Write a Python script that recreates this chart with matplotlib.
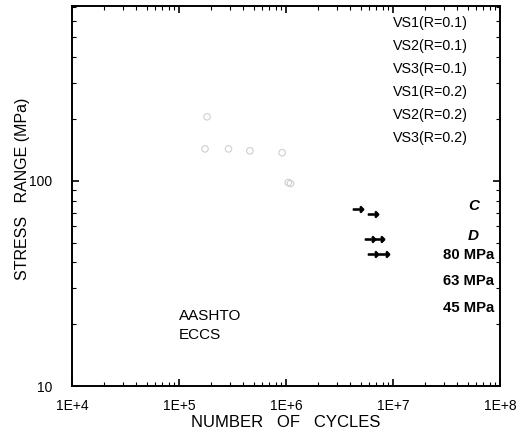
import matplotlib
matplotlib.use('Agg')
import matplotlib.pyplot as plt
from matplotlib.ticker import LogLocator, NullFormatter, FixedLocator

plt.rcParams['font.family'] = ['Liberation Sans', 'DejaVu Sans']

# faded test points (cycles, stress range MPa)
failed_n = [1.83e5, 1.75e5, 2.9e5, 4.6e5, 9.2e5, 1.05e6, 1.1e6]
failed_s = [205, 143, 143, 140, 137, 98, 97]

# run-outs (arrows)
runout_n = [4.7e6, 6.5e6, 6.1e6, 7.4e6, 6.5e6, 8.2e6]
runout_s = [73, 69, 52, 52, 44, 44]

series = ['VS1(R=0.1)', 'VS2(R=0.1)', 'VS3(R=0.1)',
          'VS1(R=0.2)', 'VS2(R=0.2)', 'VS3(R=0.2)']
cat_labels = ['C', 'D']
eccs_labels = ['80 MPa', '63 MPa', '45 MPa']
xticks = [1e4, 1e5, 1e6, 1e7, 1e8]
xtick_labels = ['1E+4', '1E+5', '1E+6', '1E+7', '1E+8']

fig = plt.figure(figsize=(5.27, 4.33), dpi=100)
ax = fig.add_axes([0.1366, 0.1085, 0.8122, 0.8775])

ax.set_xscale('log')
ax.set_yscale('log')
ax.set_xlim(1e4, 1e8)
ax.set_ylim(10, 710)

ax.scatter(failed_n, failed_s, s=22, facecolors='none', edgecolors='#cfcfcf',
           linewidths=0.8, marker='o')
ax.scatter(runout_n, runout_s, s=55, color='black', marker=r'$\rightarrow$')

ax.set_xticks(xticks)
ax.set_xticklabels(xtick_labels)
ax.xaxis.set_minor_locator(LogLocator(base=10, subs=range(2, 10)))
ax.xaxis.set_minor_formatter(NullFormatter())
ax.yaxis.set_major_locator(FixedLocator([10, 100]))
ax.set_yticklabels(['10', '100'])
ax.yaxis.set_minor_locator(LogLocator(base=10, subs=range(2, 10)))
ax.yaxis.set_minor_formatter(NullFormatter())

ax.tick_params(which='both', direction='in', top=True, right=True, labelsize=10)
ax.tick_params(axis='x', pad=9)
ax.tick_params(axis='y', pad=14)
ax.tick_params(which='major', length=5, width=1.2)
ax.tick_params(which='minor', length=3, width=0.8)
for sp in ax.spines.values():
    sp.set_linewidth(1.4)

ax.set_xlabel('NUMBER   OF   CYCLES', fontsize=12)
ax.set_ylabel('STRESS   RANGE (MPa)', fontsize=11.5)
ax.xaxis.set_label_coords(0.5, -0.075)
ax.yaxis.set_label_coords(-0.098, 0.52)

# legend texts (axes coordinates)
for i, name in enumerate(series):
    ax.text(0.749, 0.955 - i * 0.0605, name, transform=ax.transAxes,
            fontsize=10.3, va='center')
ax.text(0.925, 0.475, cat_labels[0], transform=ax.transAxes, fontsize=11,
        fontweight='bold', style='italic', va='center')
ax.text(0.925, 0.396, cat_labels[1], transform=ax.transAxes, fontsize=11,
        fontweight='bold', style='italic', va='center')
for i, lab in enumerate(eccs_labels):
    ax.text(0.866, 0.346 - i * 0.07, lab, transform=ax.transAxes, fontsize=10.7,
            fontweight='bold', va='center')
ax.text(0.25, 0.183, 'AASHTO', transform=ax.transAxes, fontsize=11, va='center')
ax.text(0.25, 0.133, 'ECCS', transform=ax.transAxes, fontsize=11, va='center')

fig.savefig('out.png', dpi=100)
